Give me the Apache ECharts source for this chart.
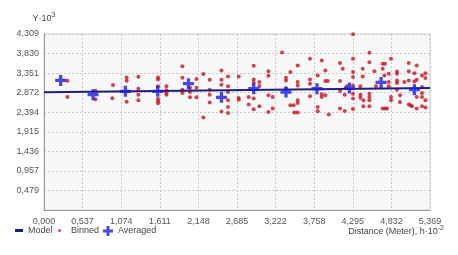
<!DOCTYPE html>
<html>
<head>
<meta charset="utf-8">
<script src="https://cdn.jsdelivr.net/npm/echarts@6/dist/echarts.min.js"></script>
<style>
  html, body { margin: 0; padding: 0; background: #fff; }
  #chart { width: 458px; height: 255px; }
</style>
</head>
<body>
<div id="chart"></div>
<script>
// tick labels (values are ×10^3 and ×10^-2, comma decimal as in the original)
var xTickLabels = ['0,000', '0,537', '1,074', '1,611', '2,148', '2,685', '3,222', '3,758', '4,295', '4,832', '5,369']
var yTickLabels = ['', '0,479', '0,957', '1,436', '1,915', '2,394', '2,872', '3,351', '3,830', '4,309']
var xMax = 5.369
var yMax = 4.309

// model line
var modelX = [0, 5.369]
var modelY = [2.880, 2.985]

// averaged points (blue crosses)
var avgX = [0.232, 0.682, 1.132, 1.582, 2.009, 2.468, 2.917, 3.366, 3.797, 4.248, 4.688, 5.152]
var avgY = [3.173, 2.824, 2.905, 2.905, 3.093, 2.758, 2.971, 2.888, 2.971, 2.985, 3.124, 2.946]

// binned points (red dots)
var binX = [
  0.326, 0.326,
  0.715, 0.715, 0.960, 0.951,
  1.150, 1.150, 1.150, 1.313, 1.313, 1.313, 1.313,
  1.586, 1.586, 1.586, 1.586, 1.586, 1.586, 1.703, 1.703, 1.703, 1.703,
  1.925, 1.925, 1.925, 1.925, 2.031, 2.031, 2.031, 2.120, 2.120, 2.120, 2.217, 2.217,
  2.305, 2.305, 2.305, 2.305,
  2.468, 2.468, 2.468, 2.468, 2.559, 2.559, 2.559, 2.559, 2.559, 2.559, 2.708, 2.708, 2.708,
  2.847, 2.847,
  2.917, 2.917, 2.917, 2.917, 2.917, 2.996, 2.996, 2.996, 3.121, 3.121, 3.121, 3.121, 3.181, 3.181,
  3.311, 3.366, 3.366, 3.366, 3.427, 3.427, 3.473, 3.482, 3.529, 3.529, 3.529, 3.529, 3.529, 3.529,
  3.700, 3.700, 3.700, 3.700,
  3.807, 3.807, 3.807, 3.863, 3.863, 3.863, 3.914, 3.914, 3.914, 3.946, 3.960,
  4.117, 4.117, 4.117, 4.117, 4.155, 4.183,
  4.211, 4.183, 4.298, 4.298, 4.298, 4.298, 4.298, 4.298, 4.298, 4.298,
  4.401, 4.401, 4.401, 4.433, 4.433, 4.443, 4.443,
  4.526, 4.526, 4.526, 4.526, 4.526, 4.526, 4.596, 4.618,
  4.711, 4.743, 4.711, 4.735, 4.711, 4.743, 4.771, 4.795, 4.795, 4.795, 4.827, 4.827, 4.827,
  4.910, 4.910, 4.910, 4.910, 4.910, 4.952, 4.952, 5.013,
  5.073, 5.073, 5.073, 5.073, 5.097, 5.119, 5.152, 5.152, 5.184, 5.184, 5.184, 5.184,
  5.258, 5.258, 5.258, 5.258, 5.258, 5.305, 5.305, 5.305, 5.305
]
var binY = [
  3.166, 2.766,
  2.920, 2.710, 3.059, 2.734,
  3.247, 3.166, 2.652, 3.264, 2.971, 2.824, 2.685,
  3.246, 3.198, 3.027, 2.717, 2.660, 2.612, 3.027, 2.929, 2.863, 2.824,
  3.522, 3.239, 2.946, 2.863, 2.995, 2.888, 2.758, 3.205, 2.995, 2.758, 3.327, 2.263,
  3.190, 2.946, 2.824, 2.629,
  3.417, 3.190, 3.068, 2.409, 3.271, 3.027, 2.888, 2.685, 2.522, 2.375, 3.271, 2.741, 2.702,
  2.766, 2.580,
  3.532, 3.198, 3.117, 2.727, 2.465, 3.132, 3.034, 2.539, 3.400, 3.288, 2.807, 2.400, 2.766, 2.482,
  3.857, 3.239, 3.173, 2.971, 3.376, 2.563, 2.563, 2.385, 3.539, 3.132, 3.051, 2.685, 2.619, 2.385,
  3.703, 3.198, 3.093, 2.783,
  3.295, 2.522, 2.417, 3.662, 2.832, 2.766, 3.417, 3.156, 2.807, 3.156, 2.336,
  3.596, 3.156, 2.912, 2.482, 3.459, 2.424,
  3.027, 2.824, 4.304, 3.703, 3.376, 3.254, 3.051, 2.849, 2.727, 2.473,
  3.027, 2.824, 2.751, 3.459, 3.271, 2.685, 2.539,
  3.849, 3.620, 2.849, 2.766, 2.685, 2.539, 3.400, 3.027,
  3.581, 3.581, 3.459, 3.295, 2.482, 2.482, 2.482, 3.337, 3.132, 3.027, 3.703, 2.766, 2.685,
  3.393, 3.337, 3.173, 3.107, 2.946, 2.807, 2.644, 3.132,
  3.596, 3.400, 3.173, 2.580, 2.563, 2.539, 3.351, 3.149, 3.539, 3.190, 2.766, 2.482,
  3.295, 3.010, 2.863, 2.766, 2.539, 3.351, 3.229, 2.685, 2.507
]

var plusPath = 'path://M3.5,0H6.5V3.5H10V6.5H6.5V10H3.5V6.5H0V3.5H3.5Z'
var font = 'Liberation Sans'
var textGray = '#555'

function zip (xs, ys) {
  return xs.map(function (x, i) { return [x, ys[i]] })
}

var chart = echarts.init(document.getElementById('chart'))
var option = {
  animation: false,
  grid: {
    left: 44,
    right: 28,
    top: 34,
    bottom: 45,
    outerBoundsMode: 'none',
    containLabel: false,
    show: true,
    backgroundColor: '#f8f8f8',
    borderColor: '#d4d4d4',
    borderWidth: 1
  },
  legend: [
    {
      left: 15, top: 226, itemWidth: 8, itemHeight: 3, itemGap: 0, padding: 0,
      textStyle: { fontFamily: font, fontSize: 9, color: '#444' },
      data: [{ name: 'Model', icon: 'rect' }]
    },
    {
      left: 58, top: 226, itemWidth: 3, itemHeight: 3, itemGap: 0, padding: 0,
      textStyle: { fontFamily: font, fontSize: 9, color: '#444', padding: [0, 0, 0, 5] },
      data: [{ name: 'Binned', icon: 'circle' }]
    },
    {
      left: 103, top: 226, itemWidth: 10, itemHeight: 10, itemGap: 0, padding: 0,
      textStyle: { fontFamily: font, fontSize: 9, color: '#444' },
      data: [{ name: 'Averaged', icon: plusPath }]
    }
  ],
  xAxis: {
    type: 'value',
    min: 0,
    max: xMax,
    interval: xMax / 10,
    name: 'Distance (Meter), h·10{sup|-2}',
    nameLocation: 'end',
    nameGap: 14,
    nameMoveOverlap: false,
    nameTextStyle: {
      fontFamily: font, fontSize: 9, color: '#444',
      align: 'right', verticalAlign: 'top', padding: [15, 0, 0, 0],
      rich: { sup: { fontFamily: font, fontSize: 7, color: '#444', padding: [0, 0, 6, 0] } }
    },
    axisLine: { show: true, lineStyle: { color: '#9a9a9a', width: 1 } },
    axisTick: { show: false },
    splitLine: { show: true, lineStyle: { color: '#c8c8c8', type: [2, 2], width: 1 } },
    axisLabel: {
      fontFamily: font, fontSize: 9, color: textGray, margin: 7,
      showMinLabel: true, showMaxLabel: true, hideOverlap: false,
      formatter: function (v) { return xTickLabels[Math.round(v / (xMax / 10))] }
    }
  },
  yAxis: {
    type: 'value',
    min: 0,
    max: yMax,
    interval: yMax / 9,
    name: 'Y·10{sup|3}',
    nameLocation: 'end',
    nameGap: 9,
    nameTextStyle: {
      fontFamily: font, fontSize: 9, color: '#444',
      rich: { sup: { fontFamily: font, fontSize: 7, color: '#444', padding: [0, 0, 6, 0] } }
    },
    axisLine: { show: true, lineStyle: { color: '#9a9a9a', width: 1 } },
    axisTick: { show: false },
    splitLine: { show: true, lineStyle: { color: '#c8c8c8', type: [2, 2], width: 1 } },
    axisLabel: {
      fontFamily: font, fontSize: 9, color: textGray, margin: 5,
      showMinLabel: true, showMaxLabel: true,
      formatter: function (v) { return yTickLabels[Math.round(v / (yMax / 9))] }
    }
  },
  series: [
    {
      name: 'Binned',
      type: 'scatter',
      symbol: 'circle',
      symbolSize: 4,
      itemStyle: { color: '#c8141e' },
      data: zip(binX, binY),
      z: 2
    },
    {
      name: 'Model',
      type: 'line',
      showSymbol: false,
      symbol: 'none',
      lineStyle: { color: '#1e1e82', width: 2 },
      itemStyle: { color: '#1e1e82' },
      data: zip(modelX, modelY),
      z: 3
    },
    {
      name: 'Averaged',
      type: 'scatter',
      symbol: plusPath,
      symbolSize: 11,
      itemStyle: { color: '#1a1ae6' },
      data: zip(avgX, avgY),
      z: 4
    }
  ]
}
chart.setOption(option)
</script>
</body>
</html>
